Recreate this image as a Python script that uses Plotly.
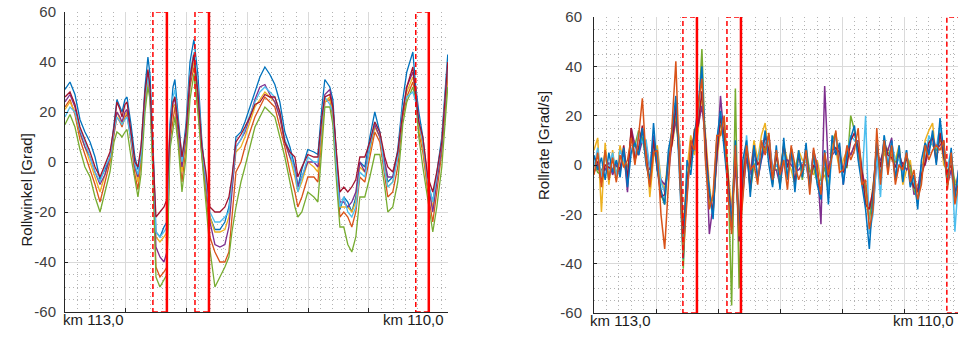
import plotly.graph_objects as go

# Streckenposition [m] ab km 113,0 (linkes Diagramm)
s_roll = [0, 41, 82, 123, 164, 206, 247, 288, 329, 370,
          403, 427, 452, 469, 493, 510, 543, 575, 600, 625,
          658, 682, 699, 723, 748, 781, 814, 838, 863, 888,
          904, 929, 962, 995, 1028, 1060, 1093, 1126, 1159, 1192,
          1233, 1274, 1315, 1348, 1373, 1406, 1447, 1480, 1521, 1562,
          1603, 1644, 1685, 1726, 1767, 1808, 1850, 1891, 1915, 1948,
          1997, 2047, 2080, 2113, 2137, 2178, 2203, 2236, 2261, 2293,
          2326, 2359, 2392, 2425, 2466, 2507, 2548, 2589, 2630, 2655,
          2696, 2737, 2778, 2811, 2861, 2885, 2910, 2943, 2984, 3025,
          3058, 3099, 3148]

# Rollwinkel [Grad], eine Liste je Fahrt
roll_blue = [29, 32, 27, 17, 12, 8, 2, -7, -3, 2,
             15, 25, 22, 20, 25, 26, 15, 2, -3, 5,
             30, 42, 35, 8, -28, -30, -26, -24, 15, 30,
             33, 20, 1, 15, 40, 49, 35, 8, -8, -22,
             -27, -27, -24, -18, -8, 10, 12, 16, 22, 28,
             34, 38, 35, 31, 24, 12, 6, -2, -10, -3,
             5, 4, 3, 22, 33, 30, 25, 0, -19, -14,
             -16, -20, -14, 0, -2, 10, 20, 12, -2, -8,
             -6, 5, 25, 36, 44, 30, 20, 10, -8, -16,
             -5, 10, 43]
roll_orange = [22, 25, 19, 9, 3, -3, -9, -16, -8, 0,
               11, 18, 16, 14, 18, 19, 8, -5, -11, 0,
               24, 32, 27, 0, -42, -46, -44, -42, 8, 18,
               22, 10, -8, 6, 30, 38, 22, 2, -12, -30,
               -36, -40, -40, -36, -22, -4, 0, 6, 12, 18,
               22, 26, 24, 22, 14, 6, -4, -12, -18, -14,
               -6, -6, -8, 12, 24, 25, 18, -6, -22, -20,
               -22, -26, -20, -6, -8, 2, 12, 8, -6, -14,
               -12, -2, 18, 26, 32, 26, 12, 4, -12, -24,
               -12, 4, 34]
roll_yellow = [21, 24, 20, 11, 6, 0, -6, -12, -5, 1,
               12, 20, 17, 15, 19, 20, 10, -2, -8, 2,
               25, 33, 28, 2, -30, -32, -30, -28, 10, 22,
               23, 12, -4, 8, 33, 40, 24, 4, -8, -22,
               -28, -28, -27, -22, -10, 4, 6, 10, 16, 22,
               25, 28, 26, 24, 18, 8, 2, -6, -12, -8,
               0, -2, -4, 14, 24, 26, 20, -2, -18, -18,
               -18, -20, -16, -2, -4, 4, 14, 10, -2, -10,
               -8, 2, 20, 28, 34, 28, 14, 6, -10, -18,
               -8, 6, 36]
roll_purple = [24, 27, 22, 12, 6, 2, -4, -9, -5, 2,
               12, 20, 18, 16, 20, 21, 10, -2, -6, 3,
               26, 36, 28, 2, -34, -38, -40, -36, 10, 24,
               25, 14, -2, 10, 32, 43, 26, 4, -8, -24,
               -33, -34, -33, -26, -12, 6, 9, 12, 18, 25,
               30, 31, 27, 24, 18, 8, 2, -2, -10, -6,
               0, 0, -2, 16, 27, 29, 22, 0, -16, -16,
               -18, -16, -12, 0, -4, 6, 15, 10, 0, -6,
               -6, 2, 20, 30, 36, 28, 16, 8, -8, -20,
               -8, 6, 38]
roll_green = [15, 19, 14, 5, -2, -6, -14, -20, -12, -4,
              8, 12, 11, 10, 12, 13, 2, -8, -14, -5,
              20, 30, 25, -5, -46, -50, -47, -45, 5, 14,
              18, 8, -12, 2, 25, 35, 20, 2, -15, -35,
              -50, -46, -42, -38, -28, -18, -8, -2, 6, 14,
              18, 22, 20, 18, 10, 2, -8, -18, -22, -20,
              -12, -14, -16, 8, 22, 22, 15, -10, -26, -26,
              -33, -36, -30, -14, -14, -6, 3, 3, -10, -20,
              -18, -8, 15, 24, 30, 25, 10, -2, -16, -28,
              -18, -2, 30]
roll_lightblue = [18, 22, 20, 13, 8, 2, -4, -8, -2, 2,
                  13, 18, 16, 15, 17, 18, 9, -1, -5, 3,
                  26, 34, 28, 4, -28, -30, -28, -26, 12, 26,
                  29, 16, 0, 12, 36, 44, 30, 6, -6, -20,
                  -24, -24, -22, -20, -8, 6, 9, 13, 19, 24,
                  28, 30, 28, 26, 20, 9, 4, -4, -12, -6,
                  2, 0, 0, 16, 26, 23, 20, -4, -18, -14,
                  -20, -22, -18, -4, -6, 6, 16, 12, -4, -10,
                  -8, 2, 22, 26, 28, 24, 16, 8, -8, -16,
                  -6, 8, 40]
roll_darkred = [26, 28, 23, 14, 9, 4, -2, -6, -1, 4,
                14, 24, 21, 18, 23, 24, 12, 0, -2, 6,
                28, 37, 30, 4, -22, -20, -18, -15, 12, 24,
                26, 16, 2, 12, 34, 43, 28, 6, -4, -18,
                -20, -20, -18, -14, -6, 8, 11, 14, 18, 23,
                24, 27, 26, 26, 20, 8, 4, 2, -6, -2,
                3, 2, 2, 18, 26, 27, 22, 2, -12, -10,
                -12, -10, -7, 2, 2, 8, 16, 12, 2, -2,
                -4, 4, 20, 30, 38, 26, 16, 10, -6, -12,
                -4, 8, 40]

# Streckenposition [m] (rechtes Diagramm), alle 30 m
s_rate = list(range(0, 2941, 30))

# Rollrate [Grad/s]
rate_blue = [4, -2, 3, -6, 5, -3, 2, -5, 7, -9,
             5, 9, 4, 15, 0, -6, 17, -2, -10, -16,
             6, 14, 28, -4, -38, 2, -4, 12, 24, 40,
             2, -10, -22, 10, 22, 6, -10, -24, 10, -26,
             2, 10, -13, 8, -6, 3, 14, 0, -9, 8,
             -10, 11, -6, 7, -11, 6, -5, 9, -10, 5,
             -8, -14, 6, -16, 12, 4, 9, -8, 4, 11,
             16, 2, -8, -18, -34, -10, 10, -6, 12, -2,
             10, -6, 8, -7, 6, -9, -4, -18, 2, 9,
             4, 14, 0, 19, 6, -8, 7, -14, -2]
rate_orange = [-4, 5, -9, 6, -6, 3, -7, 4, -1, 2,
               11, 0, 12, 27, 2, -9, 5, 6, -20, -34,
               -8, 16, 42, -2, -36, -14, 10, 6, 24, 35,
               0, -18, -12, 12, 12, 20, -12, -28, 8, -29,
               -14, 8, -2, 0, -8, 10, 4, 13, -6, 6,
               -4, 2, -10, 8, 0, -6, -2, 6, -12, 7,
               -2, -12, 5, -4, 4, 14, -3, -2, 8, 2,
               6, 15, -8, -6, -26, -18, 15, -8, 10, -4,
               8, -8, 0, -2, 5, -7, -2, -14, -8, 8,
               2, 6, 8, 6, 10, -10, 5, -16, -8]
rate_yellow = [6, 11, -19, 9, -8, 6, -6, 8, 0, -4,
               14, 2, 6, 13, 9, -13, 3, 8, -6, -10,
               4, 8, 18, 10, -26, -2, 12, 4, 14, 28,
               12, -8, -20, 2, 14, 10, -2, -18, 8, -22,
               -4, 2, -4, 10, 2, 12, 17, 4, 0, -2,
               -2, 8, 2, -2, -8, 6, 2, 1, -2, -4,
               2, -6, -4, -10, 10, 6, -2, 2, 6, 4,
               8, 10, 0, -14, -22, -8, 2, 2, 4, 7,
               2, 2, 8, -8, -2, 2, -10, -8, -6, 10,
               14, 17, 2, 14, 0, -2, -2, -6, -10]
rate_purple = [-3, 0, -2, -2, 1, -4, 0, -3, 6, -11,
               15, 8, 4, 10, 8, -2, 12, -2, -6, -8,
               -4, 10, 18, 8, -30, -12, 6, 12, 16, 24,
               10, -28, -16, 2, 28, 10, -8, -20, 0, -26,
               -12, 3, -4, 8, -6, 2, 8, 12, -2, -2,
               -8, 2, 2, 0, -2, -2, 0, 0, -8, 6,
               0, -24, 32, -2, 4, 6, 7, -8, 6, 4,
               8, 10, -2, -10, -16, -18, 2, 2, 6, 6,
               11, -6, 0, 1, -2, 0, -12, -10, 0, 0,
               6, 12, 6, 8, 10, -8, -2, -12, -2]
rate_green = [1, -3, -4, 5, -6, 4, -4, 3, 2, -1,
              6, 8, 14, 11, 2, -6, 6, 5, -12, -16,
              3, 14, 20, 2, -42, -4, 0, 14, 18, 47,
              4, -16, -14, 10, 16, 18, -2, -57, 31, -50,
              -4, 9, -11, 0, 2, 8, 6, 12, -8, 5,
              -9, 9, -5, 6, -2, 5, -6, 7, -3, -1,
              -7, -6, -1, -11, 10, 13, 0, -1, -1, 20,
              14, 3, -6, -9, -22, -12, 8, -5, 6, 5,
              4, 1, 6, -6, 4, -1, -10, -14, -6, 6,
              10, 8, 6, 10, 8, -6, 4, -8, -8]
rate_lightblue = [-1, 7, -5, 4, -2, 5, -5, 6, 2, -3,
                  7, 3, 13, 9, 10, -1, 7, 6, -7, -11,
                  -2, 16, 22, 9, -34, -10, 6, 6, 22, 38,
                  6, -11, -21, 8, 21, 10, -8, -22, 8, -30,
                  -10, 12, -7, 2, 2, 9, 8, 10, -2, 0,
                  -2, 4, -4, 6, -3, 0, 1, 2, -9, 3,
                  -6, -8, 6, -12, 4, 12, 1, -6, 4, 12,
                  10, 9, -8, 20, -28, -20, 4, -13, 12, 0,
                  9, 2, 2, -4, 6, -8, -6, -16, -2, 2,
                  12, 8, 7, 16, 4, -1, 6, -27, -4]
rate_darkred = [3, 1, -7, 0, -1, -2, 1, -2, 8, -6,
                15, 2, 7, 16, 3, -8, 10, -2, -13, -12,
                2, 9, 24, 1, -28, -6, 2, 14, 16, 30,
                10, -12, -19, 4, 19, 12, -4, -26, 6, -31,
                -6, 7, -10, 6, 0, 3, 12, 6, -7, 4,
                -4, 8, -1, 5, -7, 4, -2, 5, -7, 0,
                -2, -12, 4, -5, 6, 7, 5, -3, 0, 10,
                13, 7, -2, -16, -18, -10, 8, -1, 10, 4,
                3, -1, 5, -1, 3, -5, -9, -11, -4, 1,
                9, 11, 1, 13, 3, -3, 0, -11, -8]

# markierte Abschnitte [m]: Beginn (gestrichelt) / Ende (durchgezogen)
mark_start_left = [723, 1069, 2885]
mark_end_left = [838, 1184, 2992]
mark_start_right = [717, 1072, 2845]
mark_end_right = [830, 1185, 3100]

y_ticks = [-60, -40, -20, 0, 20, 40, 60]
y_ticktext = ["-60", "-40", "-20", "0", "20", "40", "60"]

MATLAB = {"blue": "#0072BD", "orange": "#D95319", "yellow": "#EDB120", "purple": "#7E2F8E",
          "green": "#77AC30", "lightblue": "#4DBEEE", "darkred": "#A2142F"}
FONT = "Liberation Sans, Arial, sans-serif"

left_series = [("blue", roll_blue), ("orange", roll_orange), ("yellow", roll_yellow),
               ("purple", roll_purple), ("green", roll_green), ("lightblue", roll_lightblue),
               ("darkred", roll_darkred)]
right_series = [("yellow", rate_yellow), ("purple", rate_purple), ("green", rate_green),
                ("lightblue", rate_lightblue), ("darkred", rate_darkred), ("blue", rate_blue),
                ("orange", rate_orange)]

fig = go.Figure()
for c, vals in left_series:
    fig.add_trace(go.Scatter(x=s_roll, y=vals, mode="lines", line=dict(color=MATLAB[c], width=1.3),
                             xaxis="x", yaxis="y", showlegend=False))
for c, vals in right_series:
    fig.add_trace(go.Scatter(x=s_rate, y=vals, mode="lines", line=dict(color=MATLAB[c], width=1.5),
                             xaxis="x2", yaxis="y2", showlegend=False))

# rote Markierungen
shapes = []
for xa, ya, starts, ends in [("x", "y", mark_start_left, mark_end_left),
                             ("x2", "y2", mark_start_right, mark_end_right)]:
    for x0, x1 in zip(starts, ends):
        shapes.append(dict(type="rect", xref=xa, yref=ya, x0=x0, x1=x1, y0=-60, y1=60,
                           line=dict(color="red", width=1.5, dash="5px,3px"), layer="above"))
        shapes.append(dict(type="line", xref=xa, yref=ya, x0=x1, x1=x1, y0=-60, y1=60,
                           line=dict(color="red", width=2.5), layer="above"))

grid_x = dict(showgrid=True, gridcolor="#dadada", gridwidth=1, tick0=0, dtick=500,
              minor=dict(dtick=100, showgrid=True, gridcolor="#b4b4b4", griddash="1px,3px", gridwidth=1),
              showticklabels=False, ticks="inside", ticklen=4, tickcolor="#262626",
              showline=True, linecolor="#262626", linewidth=1, zeroline=False, automargin=False)
grid_y = dict(range=[-60, 60], tickvals=y_ticks, ticktext=y_ticktext, showgrid=True,
              gridcolor="#dadada", gridwidth=1,
              minor=dict(dtick=5, showgrid=True, gridcolor="#b4b4b4", griddash="1px,3px", gridwidth=1),
              ticks="inside", ticklen=3, tickcolor="#262626",
              showline=True, linecolor="#262626", linewidth=1, zeroline=False, automargin=False,
              ticklabeloverflow="allow",
              tickfont=dict(family=FONT, size=15, color="#404040"))

W, H = 958, 339


def px(x):
    return x / W


def py(y):
    return 1 - y / H


fig.update_layout(
    width=W, height=H, margin=dict(l=0, r=0, t=0, b=0),
    paper_bgcolor="white", plot_bgcolor="white", shapes=shapes,
    xaxis=dict(grid_x, domain=[px(65), px(448)], range=[0, 3150], anchor="y"),
    yaxis=dict(grid_y, domain=[py(312), py(12)], anchor="x", ticklabelstandoff=5),
    xaxis2=dict(grid_x, domain=[px(594), 1.0], range=[0, 2935], anchor="y2"),
    yaxis2=dict(grid_y, domain=[py(313), py(17)], anchor="x2", ticklabelstandoff=8),
    annotations=[
        dict(text="Rollwinkel [Grad]", textangle=-90, x=px(15), y=py(190), xref="paper", yref="paper",
             showarrow=False, font=dict(family=FONT, size=15, color="#1a1a1a")),
        dict(text="Rollrate [Grad/s]", textangle=-90, x=px(543), y=py(146), xref="paper", yref="paper",
             showarrow=False, font=dict(family=FONT, size=15, color="#1a1a1a")),
        dict(text="km 113,0", x=px(61), y=py(330), xref="paper", yref="paper", xanchor="left",
             showarrow=False, font=dict(family=FONT, size=15, color="#1a1a1a")),
        dict(text="km 110,0", x=px(446), y=py(330), xref="paper", yref="paper", xanchor="right",
             showarrow=False, font=dict(family=FONT, size=15, color="#1a1a1a")),
        dict(text="km 113,0", x=px(588), y=py(331), xref="paper", yref="paper", xanchor="left",
             showarrow=False, font=dict(family=FONT, size=15, color="#1a1a1a")),
        dict(text="km 110,0", x=px(956), y=py(331), xref="paper", yref="paper", xanchor="right",
             showarrow=False, font=dict(family=FONT, size=15, color="#1a1a1a")),
    ],
)

# Seitenrand entfernen, damit die Figur genau das Fenster füllt
fig.write_html("out.html", config={"displayModeBar": False},
               post_script="document.body.style.margin = '0';")
